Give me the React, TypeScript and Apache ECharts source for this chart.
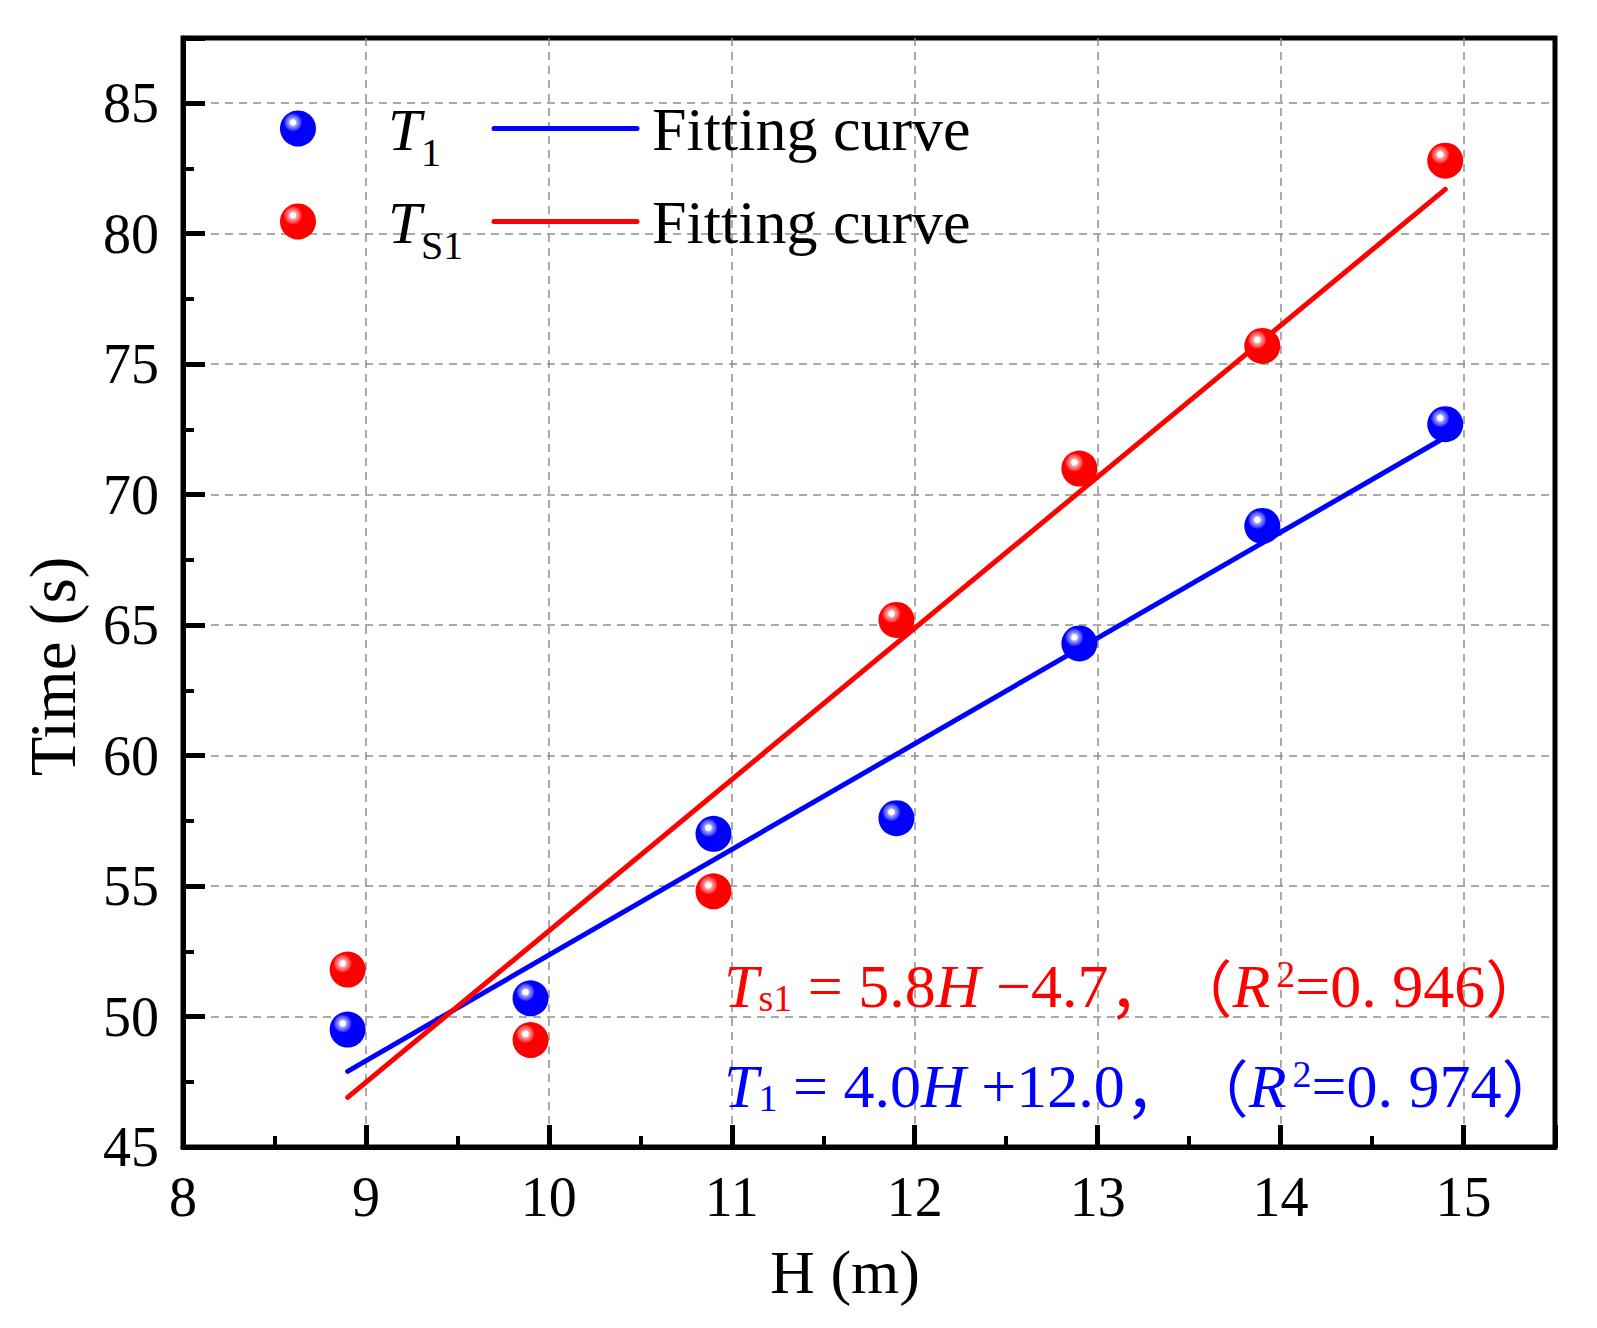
import React, { useEffect, useRef } from "react";
import * as echarts from "echarts";

const hValues = [8.9, 9.9, 10.9, 11.9, 12.9, 13.9, 14.9];
const t1Values = [49.5, 50.7, 57.0, 57.6, 64.3, 68.8, 72.7];
const ts1Values = [51.8, 49.1, 54.8, 65.2, 71.0, 75.7, 82.8];

// end points of the two fitted lines
const fitT1 = [
  [8.9, 47.9],
  [14.9, 72.2],
];
const fitTs1 = [
  [8.9, 46.9],
  [14.9, 81.7],
];

const xTicks = [8, 9, 10, 11, 12, 13, 14, 15];
const yTicks = [45, 50, 55, 60, 65, 70, 75, 80, 85];
const xMax = 15.5;
const yMax = 87.5;

const SERIF = "'Times New Roman', 'Liberation Serif', serif";
const CJK = "'Noto Sans CJK SC', sans-serif";
const BLUE = "#0000ff";
const RED = "#ff0000";

const sphere = (base: string, light: string, mid: string) =>
  new echarts.graphic.RadialGradient(0.36, 0.33, 0.26, [
    { offset: 0, color: "#ffffff" },
    { offset: 0.28, color: "#ffffff" },
    { offset: 0.42, color: light },
    { offset: 0.8, color: mid },
    { offset: 1, color: base },
  ]);

const richFor = (fill: string) => ({
  i: { fontStyle: "italic", fontSize: 62, fontFamily: SERIF, lineHeight: 62, verticalAlign: "bottom", fill },
  n: { fontSize: 62, fontFamily: SERIF, lineHeight: 62, verticalAlign: "bottom", fill },
  sub: { fontSize: 38, fontFamily: SERIF, lineHeight: 42, verticalAlign: "bottom", fill },
  sup: { fontSize: 38, fontFamily: SERIF, lineHeight: 24, verticalAlign: "top", fill, padding: [0, 0, 0, 6] },
  c: { fontSize: 62, fontFamily: CJK, lineHeight: 62, verticalAlign: "bottom", fill },
});

const gridLine = {
  show: true,
  showMinLine: false,
  showMaxLine: false,
  lineStyle: { color: "#8f8f8f", width: 1.5, type: [8, 6] },
};

const App: React.FC = () => {
  const chartRef = useRef<HTMLDivElement>(null);

  useEffect(() => {
    if (!chartRef.current) return;
    document.body.style.margin = "0";
    const chart = echarts.init(chartRef.current, null, { renderer: "svg" });

    const blueBall = sphere(BLUE, "#a0a0ff", "#4848ff");
    const redBall = sphere(RED, "#ffa0a0", "#ff4848");

    const legendRow = (cy: number, ball: any, color: string, sub: string) => [
      { type: "circle", shape: { cx: 298, cy, r: 18 }, style: { fill: ball }, z: 10 },
      {
        type: "text",
        x: 388,
        y: cy + 1,
        style: { text: "T", fontStyle: "italic", fontSize: 60, fontFamily: SERIF, fill: "#000", verticalAlign: "middle" },
        z: 10,
      },
      {
        type: "text",
        x: 421,
        y: cy + 24,
        style: { text: sub, fontSize: 40, fontFamily: SERIF, fill: "#000", verticalAlign: "middle" },
        z: 10,
      },
      {
        type: "line",
        shape: { x1: 494, y1: cy, x2: 637, y2: cy },
        style: { stroke: color, lineWidth: 5, lineCap: "round" },
        z: 10,
      },
      {
        type: "text",
        x: 652,
        y: cy + 0.5,
        style: { text: "Fitting curve", fontSize: 62, fontFamily: SERIF, fill: "#000", verticalAlign: "middle" },
        z: 10,
      },
    ];

    const option = {
      animation: false,
      backgroundColor: "#ffffff",
      grid: {
        left: 183,
        right: 42,
        top: 38,
        bottom: 181,
        show: true,
        borderColor: "#000",
        borderWidth: 5,
      },
      xAxis: [
        {
          type: "value",
          min: xTicks[0],
          max: xMax,
          interval: xTicks[1] - xTicks[0],
          position: "bottom",
          name: "H (m)",
          nameLocation: "middle",
          nameGap: 94,
          nameTextStyle: { fontSize: 62, fontFamily: SERIF, color: "#000", padding: [0, 48, 0, 0] },
          axisLine: { show: true, lineStyle: { color: "#000", width: 5 } },
          axisTick: { show: true, inside: true, length: 22, lineStyle: { color: "#000", width: 5 } },
          axisLabel: {
            fontSize: 56,
            fontFamily: SERIF,
            color: "#000",
            margin: 22,
            formatter: (v: number) => (xTicks.includes(v) ? String(v) : ""),
          },
          splitLine: gridLine,
        },
        {
          type: "value",
          min: xTicks[0],
          max: xMax,
          interval: (xTicks[1] - xTicks[0]) / 2,
          position: "bottom",
          axisLine: { show: false },
          axisTick: { show: true, inside: true, length: 11, lineStyle: { color: "#000", width: 4 } },
          axisLabel: { show: false },
          splitLine: { show: false },
        },
      ],
      yAxis: [
        {
          type: "value",
          min: yTicks[0],
          max: yMax,
          interval: yTicks[1] - yTicks[0],
          position: "left",
          name: "Time (s)",
          nameLocation: "middle",
          nameGap: 98,
          nameTextStyle: { fontSize: 65, fontFamily: SERIF, color: "#000", padding: [0, 148, 0, 0] },
          axisLine: { show: true, lineStyle: { color: "#000", width: 5 } },
          axisTick: { show: true, inside: true, length: 22, lineStyle: { color: "#000", width: 5 } },
          axisLabel: {
            fontSize: 56,
            fontFamily: SERIF,
            color: "#000",
            margin: 24,
            formatter: (v: number) => (yTicks.includes(v) ? String(v) : ""),
          },
          splitLine: gridLine,
        },
        {
          type: "value",
          min: yTicks[0],
          max: yMax,
          interval: (yTicks[1] - yTicks[0]) / 2,
          position: "left",
          axisLine: { show: false },
          axisTick: { show: true, inside: true, length: 11, lineStyle: { color: "#000", width: 4 } },
          axisLabel: { show: false },
          splitLine: { show: false },
        },
      ],
      series: [
        {
          name: "fitT1",
          type: "line",
          data: fitT1,
          symbol: "none",
          lineStyle: { color: BLUE, width: 5, cap: "round" },
          z: 2,
        },
        {
          name: "fitTs1",
          type: "line",
          data: fitTs1,
          symbol: "none",
          lineStyle: { color: RED, width: 5, cap: "round" },
          z: 2,
        },
        {
          name: "T1",
          type: "scatter",
          data: hValues.map((h, i) => [h, t1Values[i]]),
          symbolSize: 36,
          itemStyle: { color: blueBall, opacity: 1 },
          z: 3,
        },
        {
          name: "TS1",
          type: "scatter",
          data: hValues.map((h, i) => [h, ts1Values[i]]),
          symbolSize: 36,
          itemStyle: { color: redBall, opacity: 1 },
          z: 3,
        },
      ],
      graphic: [
        ...legendRow(128.5, blueBall, BLUE, "1"),
        ...legendRow(221.5, redBall, RED, "S1"),
        {
          type: "text",
          x: 724,
          y: 1017,
          z: 10,
          style: {
            text: "{i|T}{sub|s1}{n| = 5.8}{i|H}{n| −4.7}{c|，}{c|（}{i|R}{sup|2}{n|=0. 946}{c|）}",
            rich: richFor(RED),
            fill: RED,
            fontSize: 62,
            fontFamily: SERIF,
            verticalAlign: "bottom",
          },
        },
        {
          type: "text",
          x: 724,
          y: 1117,
          z: 10,
          style: {
            text: "{i|T}{sub|1}{n| = 4.0}{i|H}{n| +12.0}{c|，}{c|（}{i|R}{sup|2}{n|=0. 974}{c|）}",
            rich: richFor(BLUE),
            fill: BLUE,
            fontSize: 62,
            fontFamily: SERIF,
            verticalAlign: "bottom",
          },
        },
      ],
    };

    chart.setOption(option as any);
    return () => {
      chart.dispose();
    };
  }, []);

  return <div ref={chartRef} style={{ width: 1597, height: 1328 }} />;
};

export default App;
